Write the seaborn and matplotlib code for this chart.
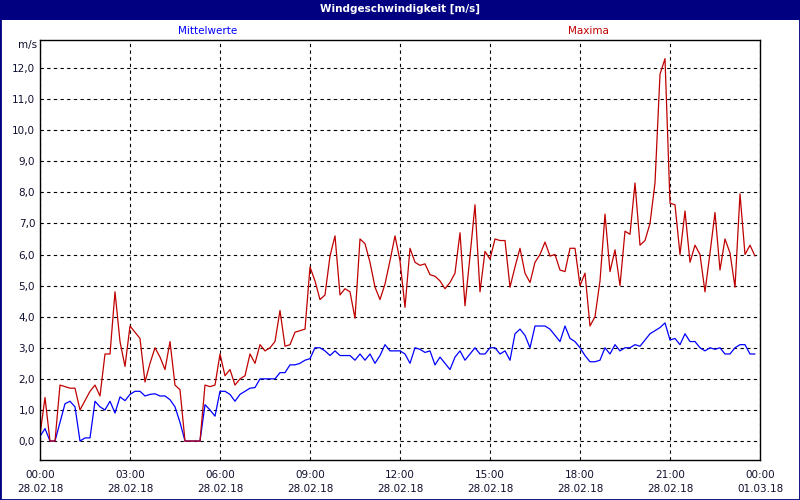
import pandas as pd
import seaborn as sns
import matplotlib.pyplot as plt
import matplotlib.dates as mdates
from matplotlib.patches import Rectangle

# Windgeschwindigkeit alle 10 Minuten am 28.02.18 (m/s)
mittelwerte = [
    0.15, 0.4, 0.0, 0.0, 0.6, 1.2, 1.28, 1.1, 0.0, 0.1, 0.1, 1.28,
    1.1, 1.0, 1.28, 0.9, 1.42, 1.3, 1.5, 1.6, 1.6, 1.45, 1.5, 1.52,
    1.45, 1.45, 1.33, 1.1, 0.6, 0.0, 0.0, 0.0, 0.0, 1.17, 1.0, 0.8,
    1.6, 1.6, 1.5, 1.28, 1.5, 1.6, 1.7, 1.72, 2.0, 2.0, 2.0, 2.0,
    2.2, 2.2, 2.45, 2.45, 2.5, 2.6, 2.65, 3.0, 3.0, 2.9, 2.75, 2.9,
    2.75, 2.75, 2.75, 2.6, 2.8, 2.6, 2.8, 2.5, 2.75, 3.1, 2.9, 2.9,
    2.9, 2.8, 2.5, 3.0, 2.95, 2.85, 2.9, 2.45, 2.7, 2.5, 2.3, 2.7,
    2.9, 2.6, 2.8, 3.0, 2.8, 2.8, 3.0, 3.0, 2.8, 2.9, 2.6, 3.45,
    3.6, 3.4, 3.0, 3.7, 3.7, 3.7, 3.6, 3.4, 3.2, 3.7, 3.3, 3.2,
    3.0, 2.75, 2.55, 2.55, 2.6, 3.0, 2.8, 3.1, 2.9, 3.0, 3.0, 3.1,
    3.05, 3.25, 3.45, 3.55, 3.65, 3.8, 3.25, 3.3, 3.1, 3.45, 3.2, 3.2,
    3.0, 2.9, 3.0, 2.95, 3.0, 2.8, 2.8, 3.0, 3.1, 3.1, 2.8, 2.8,
]
maxima = [
    0.2, 1.4, 0.0, 0.0, 1.8, 1.75, 1.7, 1.7, 1.0, 1.3, 1.6, 1.8,
    1.45, 2.8, 2.8, 4.8, 3.2, 2.4, 3.7, 3.5, 3.3, 1.9, 2.5, 3.0,
    2.7, 2.3, 3.2, 1.8, 1.65, 0.0, 0.0, 0.0, 0.0, 1.8, 1.75, 1.8,
    2.8, 2.1, 2.3, 1.8, 2.0, 2.1, 2.8, 2.5, 3.1, 2.9, 3.0, 3.2,
    4.2, 3.05, 3.1, 3.5, 3.55, 3.6, 5.6, 5.15, 4.55, 4.7, 5.95, 6.6,
    4.7, 4.9, 4.8, 3.95, 6.5, 6.35, 5.75, 4.95, 4.55, 5.05, 5.8, 6.6,
    5.8, 4.3, 6.2, 5.75, 5.65, 5.7, 5.35, 5.3, 5.15, 4.9, 5.1, 5.4,
    6.7, 4.35, 5.95, 7.6, 4.8, 6.1, 5.85, 6.5, 6.45, 6.45, 4.95, 5.6,
    6.2, 5.4, 5.1, 5.75, 6.0, 6.4, 5.95, 6.0, 5.5, 5.45, 6.2, 6.2,
    5.0, 5.4, 3.7, 4.0, 5.15, 7.3, 5.45, 6.15, 5.0, 6.75, 6.65, 8.3,
    6.3, 6.45, 7.0, 8.3, 11.8, 12.3, 7.65, 7.6, 6.0, 7.4, 5.75, 6.3,
    6.0, 4.8, 6.05, 7.35, 5.5, 6.5, 6.05, 4.95, 7.95, 6.0, 6.3, 5.95,
]
start = "2018-02-28 00:00"
ende = "2018-03-01 00:00"
y_ticks = list(range(0, 13))
y_labels = [f"{v},0" for v in y_ticks]

zeit = pd.date_range(start, periods=len(maxima), freq="10min")
df = pd.DataFrame({
    "Zeit": list(zeit) * 2,
    "Wert": mittelwerte + maxima,
    "Reihe": ["Mittelwerte"] * len(mittelwerte) + ["Maxima"] * len(maxima),
})

sns.set_style("white")
plt.rcParams["font.family"] = ["DejaVu Sans"]
textfarbe = "#101030"

fig = plt.figure(figsize=(8, 5), dpi=100)
fig.patch.set_facecolor("white")
ax = fig.add_axes([0.05, 0.08, 0.9, 0.84])

sns.lineplot(data=df, x="Zeit", y="Wert", hue="Reihe",
             hue_order=["Mittelwerte", "Maxima"],
             palette={"Mittelwerte": "#0000ff", "Maxima": "#c00000"},
             estimator=None, linewidth=0.9, legend=False, ax=ax)

ax.set_xlim(pd.Timestamp(start), pd.Timestamp(ende))
ax.set_ylim(-0.61, 12.9)
ax.set_xlabel("")
ax.set_ylabel("")

ax.xaxis.set_major_locator(mdates.HourLocator(byhour=range(0, 24, 3)))
ax.xaxis.set_minor_locator(mdates.HourLocator())
ax.xaxis.set_major_formatter(mdates.DateFormatter("%H:%M\n%d.%m.%y"))
ax.set_yticks(y_ticks)
ax.set_yticklabels(y_labels)

ax.tick_params(axis="x", which="both", direction="out", length=3, width=0.8,
               labelsize=7.5, pad=4.5, colors="black", labelcolor=textfarbe)
ax.tick_params(axis="y", length=0, labelsize=7.5, pad=3.5, labelcolor=textfarbe)
plt.setp(ax.get_xticklabels(), linespacing=1.45)

ax.grid(True, color="black", linestyle=(0, (3, 3)), linewidth=0.8)
ax.set_axisbelow(True)
for sp in ax.spines.values():
    sp.set_visible(True)
    sp.set_color("black")
    sp.set_linewidth(1.0)

# Titelleiste und Rahmen
fig.patches.append(Rectangle((0, 0.96), 1, 0.04, transform=fig.transFigure,
                             facecolor="#000080", edgecolor="none", zorder=0))
fig.patches.append(Rectangle((0, 0), 1, 1, transform=fig.transFigure,
                             facecolor="none", edgecolor="#000080", linewidth=2.0, zorder=5))
fig.text(0.5, 0.982, "Windgeschwindigkeit [m/s]", color="white", ha="center",
         va="center", fontsize=7.5, fontweight="bold")
fig.text(208 / 800, 1 - 31 / 500, "Mittelwerte", color="#0000ff", ha="center",
         va="center", fontsize=7.5)
fig.text(588 / 800, 1 - 31 / 500, "Maxima", color="#c00000", ha="center",
         va="center", fontsize=7.5)
fig.text(37 / 800, 1 - 45 / 500, "m/s", color=textfarbe, ha="right",
         va="center", fontsize=7.5)

fig.savefig("out.png", dpi=100)
